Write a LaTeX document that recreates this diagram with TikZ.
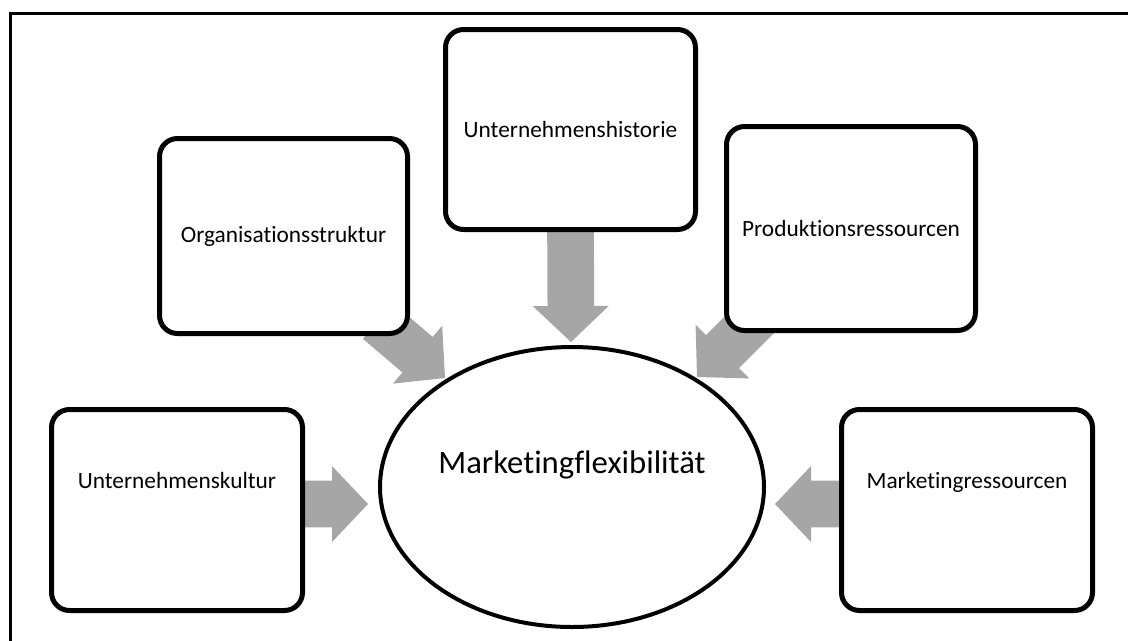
\documentclass[tikz,border=0pt]{standalone}
\usepackage{fontspec}
\setmainfont{Carlito}[Ligatures=NoCommon]
\usetikzlibrary{calc,shapes.geometric}
\definecolor{arrowgray}{RGB}{166,166,166}
\pgfdeclarelayer{bg}
\pgfsetlayers{bg,main}
\newcommand\blockarr[2]{%
  \coordinate (ba-b) at ($(#2)!27pt!(#1)$);
  \fill[arrowgray] ($(#1)!17.5pt!90:(#2)$) -- ($(ba-b)!17.5pt!90:(#2)$) -- ($(ba-b)!28.5pt!90:(#2)$) -- (#2)
    -- ($(ba-b)!28.5pt!-90:(#2)$) -- ($(ba-b)!17.5pt!-90:(#2)$) -- ($(#1)!17.5pt!-90:(#2)$) -- cycle;}
\begin{document}
\begin{tikzpicture}[x=0.75pt,y=-0.75pt,
  box/.style={draw=black, line width=3.75pt, rounded corners=13.5pt, fill=white, inner sep=0pt, align=center, font=\fontsize{17.5}{21}\selectfont},
  lowbox/.style={box, text height=12pt, text depth=44pt},
  center/.style={ellipse, draw=black, line width=3pt, fill=white, inner sep=0pt, text height=17pt, text depth=38pt, font=\fontsize{24.5}{29}\selectfont},
  frame/.style={line width=2.25pt, line cap=rect}]
\useasboundingbox (0,0) rectangle (1128,640);
\draw[frame] (10,640) -- (10,13) -- (1128,13);

\node[box, minimum width=187.5pt, minimum height=150pt] (hist) at (570.5,129.5) {Unternehmenshistorie};
\node[box, minimum width=186pt, minimum height=146.25pt] (org) at (283.5,236) {Organisationsstruktur};
\node[box, minimum width=186.75pt, minimum height=153pt] (prod) at (851,228.5) {Produktionsressourcen};
\node[lowbox, minimum width=188.25pt, minimum height=150.75pt] (kult) at (177,510) {Unternehmenskultur};
\node[lowbox, minimum width=188.25pt, minimum height=150.75pt] (mres) at (967,510) {Marketingressourcen};
\node[center, minimum width=288pt, minimum height=210pt] (mf) at (572,487) {Marketingflexibilität};

\coordinate (histT) at (570.5,225);
\coordinate (histP) at (571,342);
\coordinate (orgT) at (378,321);
\coordinate (orgP) at (445,378);
\coordinate (prodT) at (758,316);
\coordinate (prodP) at (697,377);
\coordinate (kultT) at (300,504);
\coordinate (kultP) at (368,504);
\coordinate (mresT) at (844,504);
\coordinate (mresP) at (775,504);
\begin{pgfonlayer}{bg}
\blockarr{histT}{histP}
\blockarr{orgT}{orgP}
\blockarr{prodT}{prodP}
\blockarr{kultT}{kultP}
\blockarr{mresT}{mresP}
\end{pgfonlayer}
\end{tikzpicture}
\end{document}
